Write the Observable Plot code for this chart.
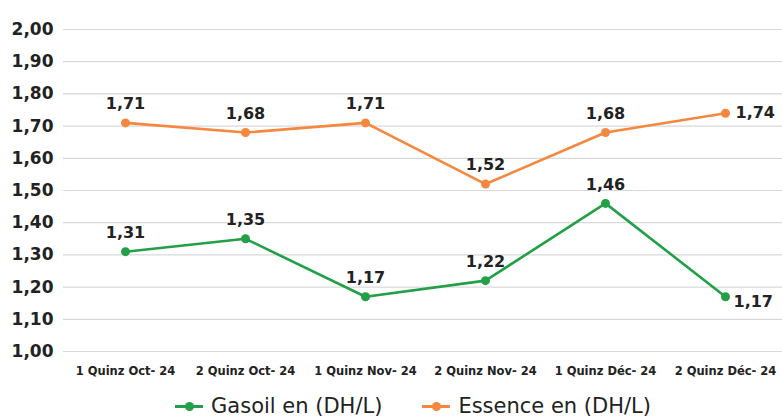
<!DOCTYPE html>
<html>
<head>
<meta charset="utf-8">
<script src="https://cdn.jsdelivr.net/npm/d3@7"></script>
<script src="https://cdn.jsdelivr.net/npm/@observablehq/plot@0.6"></script>
<style>
  html, body { margin: 0; padding: 0; background: #fff; overflow: hidden; }
  #chart svg { display: block; }
  #legend { box-sizing: border-box; height: 34px; display: flex; justify-content: center; align-items: center; gap: 40px;
    font-family: "DejaVu Sans", sans-serif; font-size: 21px; line-height: 24px; color: #222; padding-left: 44px; padding-top: 8px; }
  .item { display: flex; align-items: center; gap: 8px; }
  .sw { position: relative; width: 28px; height: 3px; }
  .sw i { position: absolute; left: 10px; top: -3px; width: 9px; height: 9px; border-radius: 50%; }
</style>
</head>
<body>
<div id="chart"></div>
<div id="legend"></div>
<script>
const categories = ["1 Quinz Oct- 24", "2 Quinz Oct- 24", "1 Quinz Nov- 24", "2 Quinz Nov- 24", "1 Quinz Déc- 24", "2 Quinz Déc- 24"];
const gasoil = [1.31, 1.35, 1.17, 1.22, 1.46, 1.17];
const essence = [1.71, 1.68, 1.71, 1.52, 1.68, 1.74];
const seriesNames = ["Gasoil en (DH/L)", "Essence en (DH/L)"];
const seriesColors = ["#229f47", "#f5873f"];
const yTicks = [1.0, 1.1, 1.2, 1.3, 1.4, 1.5, 1.6, 1.7, 1.8, 1.9, 2.0];

const fmt = v => v.toFixed(2).replace(".", ",");
const rows = [];
[gasoil, essence].forEach((vals, s) => vals.forEach((v, i) => rows.push({cat: categories[i], value: v, series: seriesNames[s], idx: i})));
const lastIdx = categories.length - 1;

const chart = Plot.plot({
  width: 782,
  height: 385,
  marginLeft: 63,
  marginRight: 0,
  marginTop: 29,
  marginBottom: 34,
  style: {fontFamily: "DejaVu Sans, sans-serif", color: "#222"},
  x: {type: "point", domain: categories, range: [123, 727], padding: 0},
  y: {domain: [1, 2]},
  color: {domain: seriesNames, range: seriesColors},
  marks: [
    Plot.gridY(yTicks, {stroke: "#d9d9d9", strokeOpacity: 1, strokeWidth: 1.2}),
    Plot.axisY(yTicks, {tickSize: 0, tickPadding: 10, tickFormat: fmt, fontSize: 17, fontWeight: "bold", fill: "#222", label: null}),
    Plot.axisX({tickSize: 0, tickPadding: 15, fontSize: 11.5, fontWeight: "bold", fill: "#222", label: null}),
    Plot.lineY(rows, {x: "cat", y: "value", z: "series", stroke: "series", strokeWidth: 2.6}),
    Plot.dot(rows, {x: "cat", y: "value", fill: "series", r: 4.5}),
    Plot.text(rows.filter(d => d.idx !== lastIdx), {x: "cat", y: "value", text: d => fmt(d.value), dy: -19, fontSize: 16, fontWeight: "bold", fill: "#222"}),
    Plot.text(rows.filter(d => d.idx === lastIdx && d.series === seriesNames[1]), {x: "cat", y: "value", text: d => fmt(d.value), dx: 10, dy: 0, textAnchor: "start", fontSize: 16, fontWeight: "bold", fill: "#222"}),
    Plot.text(rows.filter(d => d.idx === lastIdx && d.series === seriesNames[0]), {x: "cat", y: "value", text: d => fmt(d.value), dx: 8, dy: 5, textAnchor: "start", fontSize: 16, fontWeight: "bold", fill: "#222"})
  ]
});
document.getElementById("chart").append(chart);

const legend = document.getElementById("legend");
seriesNames.forEach((name, i) => {
  const item = document.createElement("div");
  item.className = "item";
  item.innerHTML = `<span class="sw" style="background:${seriesColors[i]}"><i style="background:${seriesColors[i]}"></i></span><span>${name}</span>`;
  legend.append(item);
});
</script>
</body>
</html>
